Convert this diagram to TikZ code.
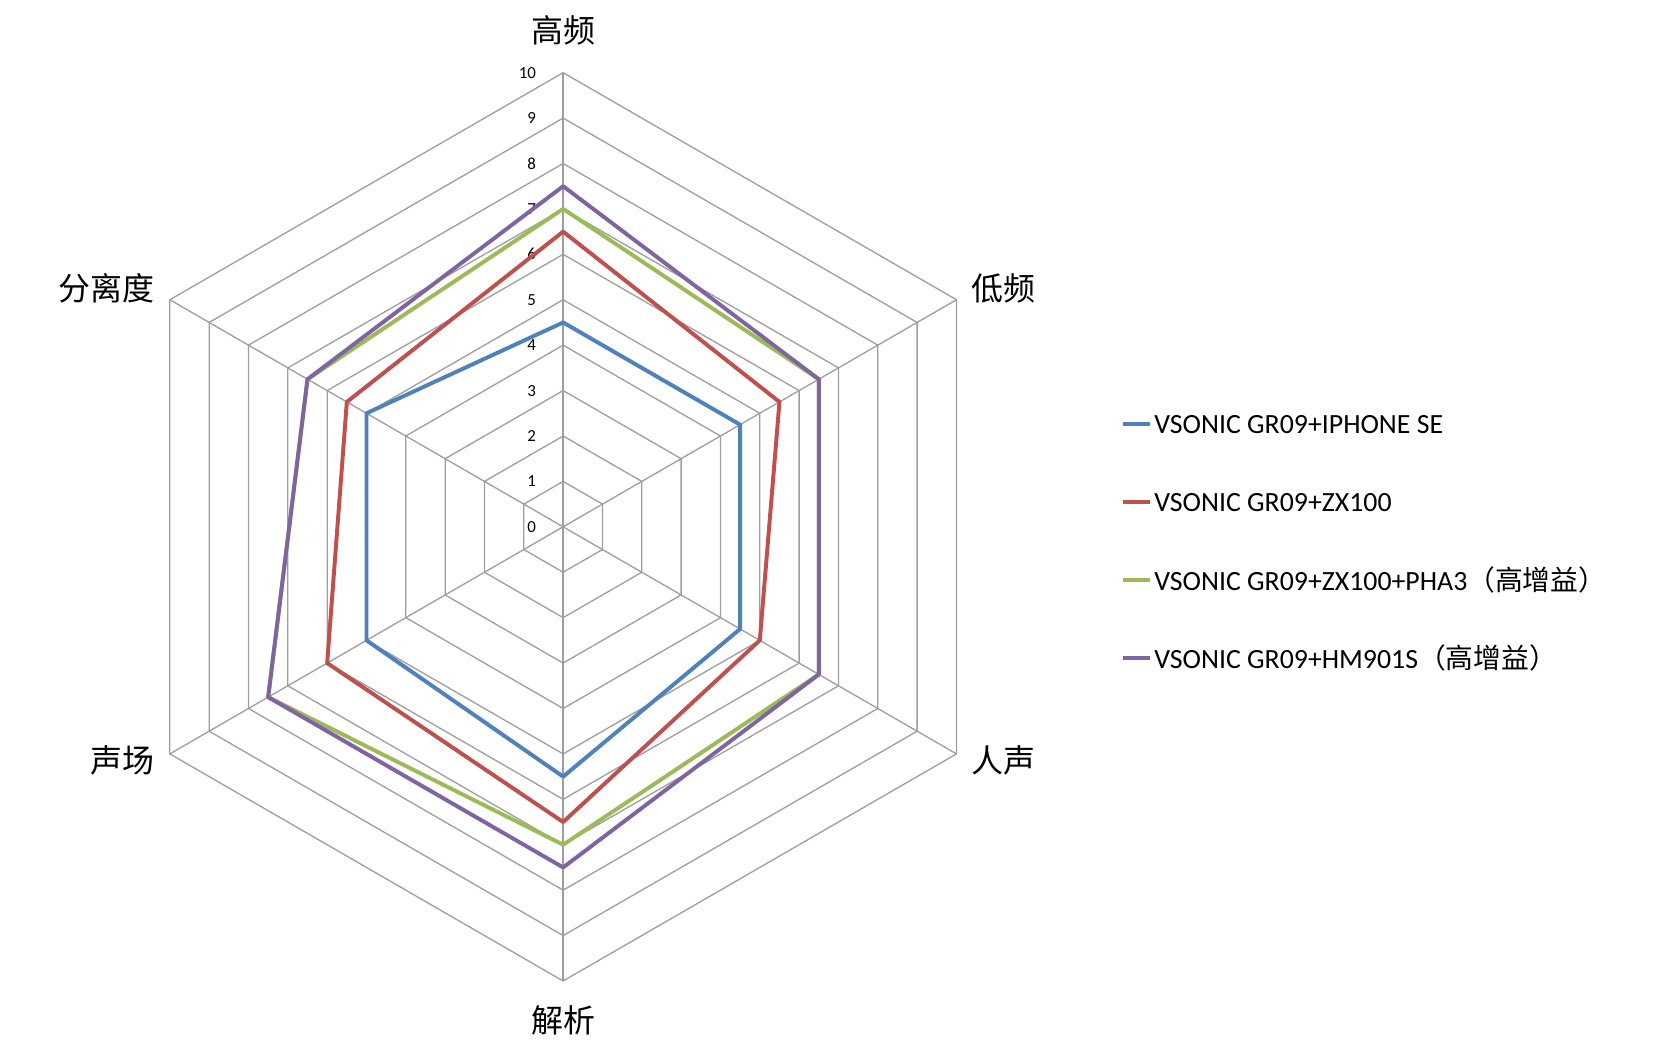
\documentclass[tikz,border=0pt]{standalone}
\usepackage{fontspec}
\usetikzlibrary{calc}
\setmainfont{Carlito}
\newfontfamily\cjk{Noto Sans CJK SC}
\definecolor{sblue}{HTML}{4F81BD}
\definecolor{sred}{HTML}{C0504D}
\definecolor{sgreen}{HTML}{9BBB59}
\definecolor{spurple}{HTML}{8064A2}
\tikzset{grid/.style={draw=black!38,line width=0.35pt},
series/.style={line width=1.05pt,line join=round},
axlab/.style={font=\cjk\fontsize{8.5}{10}\selectfont},
tick/.style={font=\fontsize{4.5}{5}\selectfont,anchor=east},
leg/.style={font=\fontsize{7.4}{8}\selectfont,anchor=west,inner sep=1pt}}
\begin{document}
\begin{tikzpicture}[x=0.01cm,y=-0.01cm]
\useasboundingbox (0,0) rectangle (1560,981);
\coordinate (c) at (527,493);
% grid
\foreach \r in {1,...,10}{
  \draw[grid] ($(c)+(90:-\r*42.5)$) \foreach \a in {30,-30,-90,-150,150}{ -- ($(c)+(\a:-\r*42.5)$)} -- cycle;
}
\foreach \a in {90,30,-30,-90,-150,150}{\draw[grid] (c) -- ($(c)+(\a:-425)$);}
\foreach \r in {0,...,10}{\node[tick] (t\r) at (514,{493-\r*42.5}) {\r};}
% series: order hi, low, voice, resolution, stage, separation
\newcommand{\seriesplot}[7]{%
 \draw[series,#1] ($(c)+(0,{-#2*42.5})$) -- ($(c)+({#3*36.806},{-#3*21.25})$) -- ($(c)+({#4*36.806},{#4*21.25})$) -- ($(c)+(0,{#5*42.5})$) -- ($(c)+({-#6*36.806},{#6*21.25})$) -- ($(c)+({-#7*36.806},{-#7*21.25})$) -- cycle;}
\seriesplot{sblue}{4.5}{4.5}{4.5}{5.5}{5}{5}
\seriesplot{sred}{6.5}{5.5}{5}{6.5}{6}{5.5}
\seriesplot{sgreen}{7}{6.5}{6.5}{7}{7.5}{6.5}
\seriesplot{spurple}{7.5}{6.5}{6.5}{7.5}{7.5}{6.5}
% axis labels
\node[axlab] (l1) at (527,28) {高频};
\node[axlab] (l2) at (939,270) {低频};
\node[axlab] (l3) at (939,712) {人声};
\node[axlab] (l4) at (527,955) {解析};
\node[axlab] (l5) at (115,712) {声场};
\node[axlab] (l6) at (100,270) {分离度};
% legend
\foreach \y/\col/\txt [count=\i] in {397/sblue/{VSONIC GR09+IPHONE SE},470/sred/{VSONIC GR09+ZX100},543/sgreen/{VSONIC GR09+ZX100+PHA3{\cjk（高增益）}},616/spurple/{VSONIC GR09+HM901S{\cjk（高增益）}}}{
  \coordinate (ls\i) at (1051,\y);
  \node[leg] (lt\i) at (1076,\y) {\txt};
  \draw[line width=1.05pt,\col] (ls\i) -- (lt\i.west);
}
\end{tikzpicture}
\end{document}
